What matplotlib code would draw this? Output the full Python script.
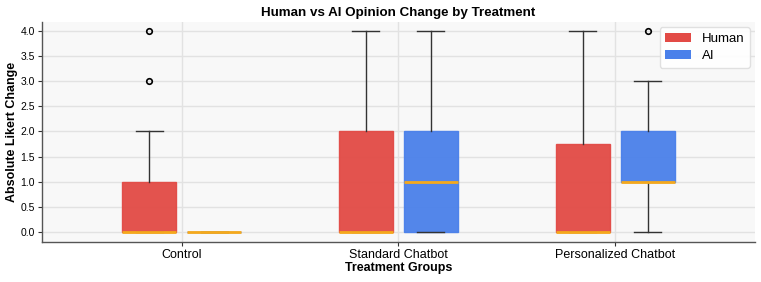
import matplotlib
matplotlib.use("Agg")
import matplotlib.pyplot as plt
import matplotlib.patches as mpatches

plt.rcParams['font.family'] = ['Liberation Sans', 'DejaVu Sans']

categories = ["Control", "Standard Chatbot", "Personalized Chatbot"]
groups = ["Human", "AI"]
colors = {"Human": "#e24a45", "AI": "#4a80ea"}

# box statistics per group, per category
human_q1 = [0.0, 0.0, 0.0]
human_med = [0.0, 0.0, 0.0]
human_q3 = [1.0, 2.0, 1.75]
human_whislo = [0.0, 0.0, 0.0]
human_whishi = [2.0, 4.0, 4.0]
human_fliers = [[3.0, 4.0], [], []]

ai_q1 = [0.0, 0.0, 1.0]
ai_med = [0.0, 1.0, 1.0]
ai_q3 = [0.0, 2.0, 2.0]
ai_whislo = [0.0, 0.0, 0.0]
ai_whishi = [0.0, 4.0, 3.0]
ai_fliers = [[], [], [4.0]]

yticks = [0.0, 0.5, 1.0, 1.5, 2.0, 2.5, 3.0, 3.5, 4.0]

fig, ax = plt.subplots(figsize=(7.61, 2.82), dpi=100)
fig.subplots_adjust(left=0.055, right=0.992, top=0.922, bottom=0.142)
ax.set_facecolor("#f8f8f8")

def make_stats(q1, med, q3, lo, hi, fl):
    return [dict(q1=a, med=b, q3=c, whislo=d, whishi=e, fliers=f)
            for a, b, c, d, e, f in zip(q1, med, q3, lo, hi, fl)]

data = {
    "Human": make_stats(human_q1, human_med, human_q3, human_whislo, human_whishi, human_fliers),
    "AI": make_stats(ai_q1, ai_med, ai_q3, ai_whislo, ai_whishi, ai_fliers),
}
offsets = {"Human": -0.15, "AI": 0.15}

for g in groups:
    pos = [i + offsets[g] for i in range(len(categories))]
    ax.bxp(data[g], positions=pos, widths=0.25, patch_artist=True,
           showfliers=True,
           boxprops=dict(facecolor=colors[g], edgecolor=colors[g], alpha=0.95, linewidth=1),
           medianprops=dict(color="#f5a91c", linewidth=2),
           whiskerprops=dict(color="#333333", linewidth=1),
           capprops=dict(color="#333333", linewidth=1),
           flierprops=dict(marker="o", markerfacecolor="none", markeredgecolor="black",
                           markersize=4, markeredgewidth=1.2),
           zorder=3)

ax.set_xticks(range(len(categories)))
ax.set_xticklabels(categories, fontsize=9)
ax.set_yticks(yticks)
ax.set_yticklabels([f"{v:.1f}" for v in yticks], fontsize=7.5)
ax.set_xlim(-0.645, 2.645)
ax.set_ylim(-0.2, 4.18)

ax.grid(True, color="#e2e2e2", linewidth=1, zorder=0)
ax.set_axisbelow(True)
for s in ["top", "right"]:
    ax.spines[s].set_visible(False)
for s in ["left", "bottom"]:
    ax.spines[s].set_color("#555555")
    ax.spines[s].set_linewidth(1)
ax.tick_params(axis="both", colors="#333333", labelcolor="black", length=3, pad=2)

ax.set_title("Human vs AI Opinion Change by Treatment", fontsize=9.6, fontweight="bold", pad=4)
ax.set_xlabel("Treatment Groups", fontsize=9, fontweight="bold", labelpad=1)
ax.set_ylabel("Absolute Likert Change", fontsize=9, fontweight="bold", labelpad=2)

handles = [mpatches.Patch(facecolor=colors[g], label=g) for g in groups]
ax.legend(handles=handles, loc="upper right", fontsize=9.5, frameon=True,
          framealpha=0.9, edgecolor="#dddddd", handlelength=2.0,
          borderpad=0.4, borderaxespad=0.4, labelspacing=0.4)

fig.savefig("out.png", dpi=100)
